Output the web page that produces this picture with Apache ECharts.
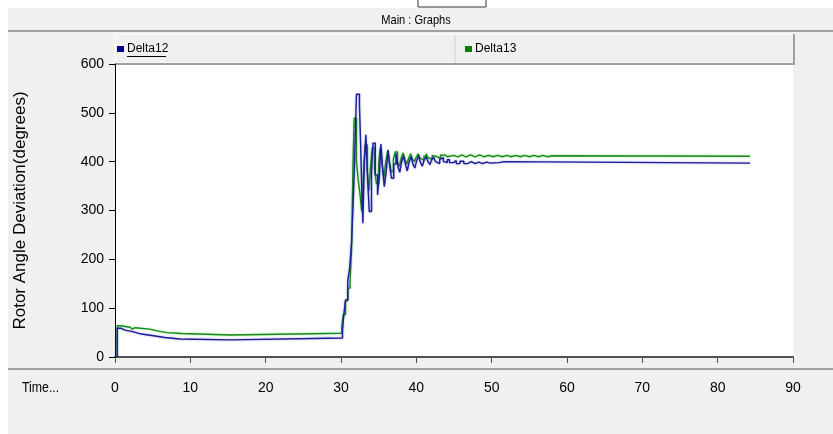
<!DOCTYPE html>
<html>
<head>
<meta charset="utf-8">
<script src="https://cdn.jsdelivr.net/npm/echarts@6/dist/echarts.min.js"></script>
<style>
html,body{margin:0;padding:0;background:#ffffff;}
#chart{width:833px;height:434px;}
</style>
</head>
<body>
<div id="chart"></div>
<script>
var seriesNames = ['Delta12', 'Delta13'];
var chartTitle = 'Main : Graphs';
var yAxisTitle = 'Rotor Angle Deviation(degrees)';
var xAxisTitle = 'Time...';

// [time, value] : value held until the next time (stepped trace)
var delta12Points = [
  [0,0],[0.3,59],[0.75,55],[1.33,53],[2.0,49],[2.2,51],[2.6,47],[3.5,44],[4.9,40],[6.6,37],[8.6,35],
  [15.3,39],[30.2,55],[30.35,83],[30.6,117],[30.9,156],[31.15,182],[31.4,233],[31.65,330],[31.8,400],
  [32.05,538],[32.45,516],[32.6,438],[32.75,350],[32.9,274],[33.1,400],[33.3,455],[33.55,359],[33.75,298],
  [34.05,380],[34.25,438],[34.55,373],[34.85,332],[35.1,373],[35.3,436],[35.55,380],[35.75,349],[36.0,380],
  [36.25,424],[36.5,387],[36.7,366],[37.0,395],[37.3,417],[37.55,390],[37.8,378],[38.05,400],[38.3,412],
  [38.55,395],[38.8,381],[39.05,400],[39.3,410],[39.55,395],[39.8,387],[40.05,402],[40.3,412],[40.55,398],
  [40.8,391],[41.05,404],[41.3,410],[41.55,400],[41.8,394],[42.05,404],[42.3,409],[42.55,400],[42.8,396],
  [43.1,405],[43.35,408],[43.6,400],[43.85,398],[44.1,404],[44.4,398],[44.9,402],[45.3,396],[45.8,401],
  [46.3,396],[46.8,400],[47.3,396],[47.8,399],[48.3,396],[48.8,399],[49.3,397],[49.8,398],[51.0,400],
  [51.6,397],[84.3,397]
];
var delta13Points = [
  [0,0],[0.3,64],[0.75,61],[2.0,57],[2.3,60],[2.65,57],[4.6,53],[5.75,50],[6.9,48],[8.85,45],
  [15.3,48.5],[30.1,61],[30.3,87],[30.6,115],[30.9,141],[31.2,154],[31.4,219],[31.6,400],[31.75,489],
  [32.05,400],[32.3,360],[32.55,330],[32.75,298],[33.0,380],[33.2,434],[33.5,380],[33.7,340],[33.95,395],
  [34.15,428],[34.45,385],[34.7,355],[35.0,395],[35.2,428],[35.45,395],[35.7,368],[35.95,400],[36.2,422],
  [36.45,398],[36.65,380],[36.95,405],[37.2,420],[37.5,400],[37.75,390],[38.0,408],[38.25,418],[38.5,404],
  [38.75,395],[39.0,408],[39.25,416],[39.5,405],[39.75,400],[40.0,410],[40.25,416],[40.5,407],[40.75,403],
  [41.0,411],[41.3,416],[41.55,408],[41.8,405],[42.1,412],[42.4,415],[42.65,409],[42.9,407],[43.2,413],
  [43.5,414],[43.8,410],[44.1,413],[45.0,410],[45.5,414],[46.0,410],[46.6,414],[47.2,410],[47.8,414],
  [48.4,410],[49.0,413],[49.6,410],[50.2,413],[50.8,410],[51.4,413],[52.0,410],[52.6,413],[53.2,410],
  [53.8,413],[54.4,410],[55.0,413],[55.6,410],[56.2,413],[56.8,410],[57.4,412],[58.0,411],[84.3,411]
];

// expand held samples into stair vertices (value held until next sample time)
function toStairs(pts) {
  var out = [];
  for (var i = 0; i < pts.length; i++) {
    out.push([pts[i][0], pts[i][1]]);
    if (i + 1 < pts.length) out.push([pts[i + 1][0], pts[i][1]]);
  }
  return out;
}

var FONT = "'Liberation Sans',Arial,sans-serif";
var chart = echarts.init(document.getElementById('chart'), null, {renderer:'canvas'});
var option = {
  animation: false,
  backgroundColor: '#f0f0f0',
  graphic: { elements: [
    {type:'rect', shape:{x:0,y:0,width:8,height:434}, style:{fill:'#ffffff'}, silent:true},
    {type:'rect', shape:{x:0,y:0,width:833,height:8}, style:{fill:'#ffffff'}, silent:true},
    {type:'rect', shape:{x:418,y:-2,width:68,height:9}, style:{fill:'#ffffff', stroke:'#333333', lineWidth:1}, silent:true},
    {type:'text', x:416, y:20, scaleX:0.85, style:{text:chartTitle, font:'13px '+FONT, fill:'#000', align:'center', verticalAlign:'middle'}, silent:true},
    {type:'line', shape:{x1:8,y1:31,x2:833,y2:31}, style:{stroke:'#a0a0a0', lineWidth:2}, silent:true},
    {type:'rect', shape:{x:115,y:34,width:679,height:29}, style:{fill:'#f0f0f0', stroke:'#ffffff', lineWidth:1}, silent:true},
    {type:'polyline', shape:{points:[[794,34],[794,64],[115,64]]}, style:{stroke:'#a0a0a0', lineWidth:2, fill:null}, silent:true},
    {type:'line', shape:{x1:455,y1:35,x2:455,y2:63}, style:{stroke:'#d0d0d0', lineWidth:1}, silent:true},
    {type:'line', shape:{x1:127,y1:56.5,x2:166,y2:56.5}, style:{stroke:'#000000', lineWidth:1}, silent:true},
    {type:'line', shape:{x1:8,y1:369,x2:833,y2:369}, style:{stroke:'#a0a0a0', lineWidth:2}, silent:true},
    {type:'text', x:22, y:388, scaleX:0.88, style:{text:xAxisTitle, font:'14px '+FONT, fill:'#000', align:'left', verticalAlign:'middle'}, silent:true}
  ]},
  legend: [
    {data:[seriesNames[0]], left:112, top:38, icon:'rect', itemWidth:7, itemHeight:6, itemGap:5,
     textStyle:{fontSize:12, fontFamily:FONT, color:'#000', padding:[0,0,0,-2]}, selectedMode:false},
    {data:[seriesNames[1]], left:460, top:38, icon:'rect', itemWidth:7, itemHeight:6, itemGap:5,
     textStyle:{fontSize:12, fontFamily:FONT, color:'#000', padding:[0,0,0,-2]}, selectedMode:false}
  ],
  grid: {left:115, right:40, top:64, bottom:77, show:true, backgroundColor:'#ffffff', borderWidth:0},
  xAxis: {
    type:'value', min:0, max:90, interval:10, offset:16,
    axisLine:{show:true, lineStyle:{color:'#505050', width:2}},
    axisTick:{show:true, length:6, inside:false, lineStyle:{color:'#505050'}},
    axisLabel:{fontSize:14, fontFamily:FONT, color:'#000', margin:8},
    splitLine:{show:false}
  },
  yAxis: {
    type:'value', min:0, max:600, interval:100,
    name: yAxisTitle, nameLocation:'middle', nameGap:86, nameRotate:90,
    nameTextStyle:{fontSize:17, fontFamily:FONT, color:'#000'},
    axisLine:{show:true, lineStyle:{color:'#000', width:1}},
    axisTick:{show:true, length:6, lineStyle:{color:'#000'}},
    axisLabel:{fontSize:14, fontFamily:FONT, color:'#000', margin:11},
    splitLine:{show:false}
  },
  series: [
    {name:seriesNames[0], type:'line', data:toStairs(delta12Points), showSymbol:false, symbol:'none',
     itemStyle:{color:'#000080'}, lineStyle:{color:'#1c1c96', width:1.4, shadowColor:'rgba(60,60,200,0.5)', shadowBlur:2}, z:3},
    {name:seriesNames[1], type:'line', data:toStairs(delta13Points), showSymbol:false, symbol:'none',
     itemStyle:{color:'#008000'}, lineStyle:{color:'#168c16', width:1.4, shadowColor:'rgba(60,180,60,0.5)', shadowBlur:2}, z:2}
  ]
};
chart.setOption(option);
</script>
</body>
</html>
